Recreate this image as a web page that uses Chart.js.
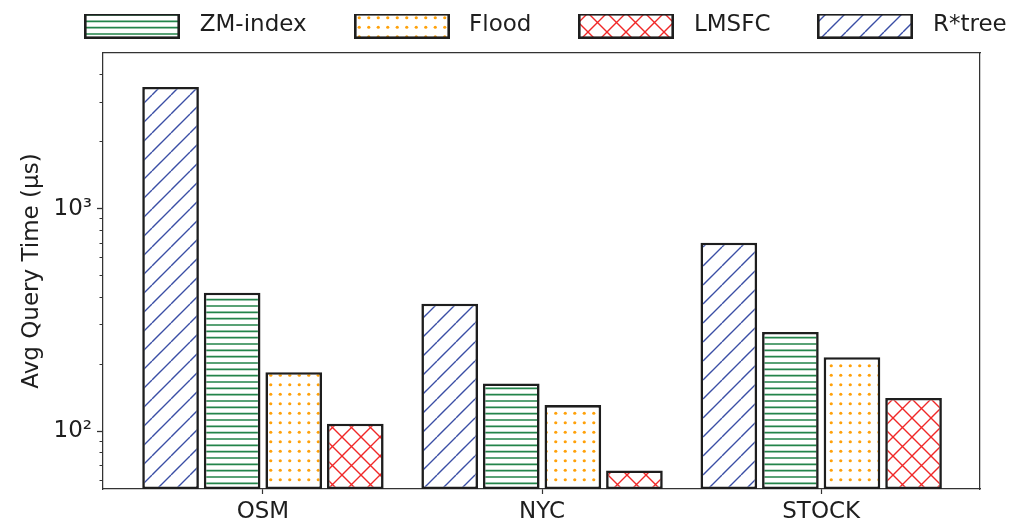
<!DOCTYPE html>
<html>
<head>
<meta charset="utf-8">
<script src="https://cdn.jsdelivr.net/npm/chart.js@4"></script>
<style>
  html, body { margin: 0; padding: 0; background: #fff; }
  #wrap { width: 1012px; height: 526px; }
</style>
</head>
<body>
<div id="wrap"><canvas id="queryChart"></canvas></div>
<script>
// values (avg query time, microseconds)
const categories = ['OSM', 'NYC', 'STOCK'];
const seriesNames = ['R*tree', 'ZM-index', 'Flood', 'LMSFC'];
const legendOrder = ['ZM-index', 'Flood', 'LMSFC', 'R*tree'];
const rtreeTimes = [3520, 374, 703];
const zmTimes = [419, 164, 279];
const floodTimes = [184, 131, 215];
const lmsfcTimes = [108, 66.6, 141];
const yTickLabels = { 100: '10²', 1000: '10³' };

const valuesByName = {
  'R*tree': rtreeTimes,
  'ZM-index': zmTimes,
  'Flood': floodTimes,
  'LMSFC': lmsfcTimes
};

const spine = '#333';
const ink = '#1e1e1e';

// matplotlib-like hatch tiles
function hatchTile(kind, color) {
  const size = 19;
  const c = document.createElement('canvas');
  c.width = size;
  c.height = size;
  const g = c.getContext('2d');
  g.fillStyle = '#fff';
  g.fillRect(0, 0, size, size);
  g.strokeStyle = color;
  g.fillStyle = color;
  g.lineWidth = 1.4;
  if (kind === 'diag' || kind === 'cross') {
    g.beginPath();
    for (const k of [-size, 0, size]) {
      g.moveTo(k, size);
      g.lineTo(k + size, 0);
      if (kind === 'cross') {
        g.moveTo(k, 0);
        g.lineTo(k + size, size);
      }
    }
    g.stroke();
  } else if (kind === 'hline') {
    g.lineWidth = 1.7;
    g.beginPath();
    for (let i = 0; i < 3; i++) {
      const y = 2 + i * size / 3;
      g.moveTo(0, y);
      g.lineTo(size, y);
    }
    g.stroke();
  } else if (kind === 'dots') {
    for (const x of [4.75, 14.25]) {
      for (const y of [4.75, 14.25]) {
        g.beginPath();
        g.arc(x, y, 1.6, 0, Math.PI * 2);
        g.fill();
      }
    }
  }
  return c;
}

const ctx = document.getElementById('queryChart').getContext('2d');

const patterns = {
  'R*tree': ctx.createPattern(hatchTile('diag', '#3a4ea5'), 'repeat'),
  'ZM-index': ctx.createPattern(hatchTile('hline', '#23844a'), 'repeat'),
  'Flood': ctx.createPattern(hatchTile('dots', '#ffa10a'), 'repeat'),
  'LMSFC': ctx.createPattern(hatchTile('cross', '#f02828'), 'repeat')
};

// legend swatch: blank lead-in, hatched box, small gap before the text
function legendSwatch(pattern) {
  const c = document.createElement('canvas');
  c.width = 151;
  c.height = 26;
  const g = c.getContext('2d');
  g.fillStyle = pattern;
  g.fillRect(47, 0, 96, 26);
  g.strokeStyle = ink;
  g.lineWidth = 2.6;
  g.strokeRect(48.3, 1.3, 93.4, 23.4);
  return c;
}

const swatches = {};
seriesNames.forEach(n => { swatches[n] = legendSwatch(patterns[n]); });

Chart.defaults.font.family = 'DejaVu Sans';
Chart.defaults.color = ink;

// keep the legend swatches crisp when they land on half pixels
const crisp = {
  id: 'crisp',
  beforeDraw: chart => { chart.ctx.imageSmoothingEnabled = false; }
};

new Chart(ctx, {
  type: 'bar',
  plugins: [crisp],
  data: {
    datasets: seriesNames.map(name => ({
      label: name,
      data: valuesByName[name].map((v, i) => ({ x: i, y: v })),
      backgroundColor: patterns[name],
      borderColor: ink,
      borderWidth: 2.6,
      borderSkipped: false,
      categoryPercentage: 0.8825,
      barPercentage: 0.92,
      xAxisID: 'x',
      yAxisID: 'y'
    }))
  },
  options: {
    responsive: true,
    maintainAspectRatio: false,
    animation: false,
    layout: { padding: { left: 32, right: 0, top: 14, bottom: 0 } },
    plugins: {
      tooltip: { enabled: false },
      legend: {
        position: 'top',
        align: 'center',
        labels: {
          usePointStyle: true,
          pointStyleWidth: 151,
          padding: 0,
          color: ink,
          font: { size: 23 },
          generateLabels: () => legendOrder.map(name => ({
            text: name,
            pointStyle: swatches[name],
            datasetIndex: seriesNames.indexOf(name),
            hidden: false,
            fillStyle: '#fff',
            strokeStyle: ink,
            lineWidth: 0,
            fontColor: ink
          }))
        }
      }
    },
    scales: {
      x: {
        type: 'linear',
        position: 'bottom',
        min: -0.573,
        max: 2.569,
        offset: false,
        afterBuildTicks: s => { s.ticks = categories.map((c, i) => ({ value: i })); },
        afterFit: s => { s.height = 37; },
        grid: { offset: false, drawOnChartArea: false, tickLength: 5, color: spine, tickWidth: 1.2 },
        border: { color: spine, width: 1.25 },
        ticks: {
          autoSkip: false,
          maxRotation: 0,
          padding: 4,
          font: { size: 23 },
          color: ink,
          callback: v => categories[v] ?? ''
        }
      },
      y: {
        type: 'logarithmic',
        position: 'left',
        min: 55,
        max: 5000,
        afterBuildTicks: s => {
          s.ticks = s.ticks.filter(t => {
            const m = t.value / Math.pow(10, Math.floor(Math.log10(t.value) + 1e-9));
            return Math.abs(m - Math.round(m)) < 1e-6 && t.value > s.min && t.value < s.max;
          });
        },
        afterFit: s => { s.width = 71; },
        grid: {
          drawOnChartArea: false,
          tickLength: 6,
          tickColor: spine,
          tickWidth: c => (c.tick && c.tick.major ? 1.3 : 1),
          tickBorderDash: c => (c.tick && c.tick.major ? [] : [0, 2.5, 3.5, 0])
        },
        border: { color: spine, width: 1.25 },
        ticks: {
          autoSkip: false,
          padding: 5,
          font: { size: 23 },
          color: ink,
          callback: v => yTickLabels[v] || ''
        },
        title: {
          display: true,
          text: 'Avg Query Time (μs)',
          font: { size: 23 },
          color: ink,
          padding: { top: -14, bottom: 0 }
        }
      },
      xt: {
        type: 'linear',
        position: 'top',
        display: true,
        afterFit: s => { s.height = 6; },
        grid: { display: false },
        ticks: { display: false },
        border: { color: spine, width: 1.25 }
      },
      yr: {
        type: 'linear',
        position: 'right',
        display: true,
        afterFit: s => { s.width = 32; },
        grid: { display: false },
        ticks: { display: false },
        border: { color: spine, width: 1.25 }
      }
    }
  }
});
</script>
</body>
</html>
